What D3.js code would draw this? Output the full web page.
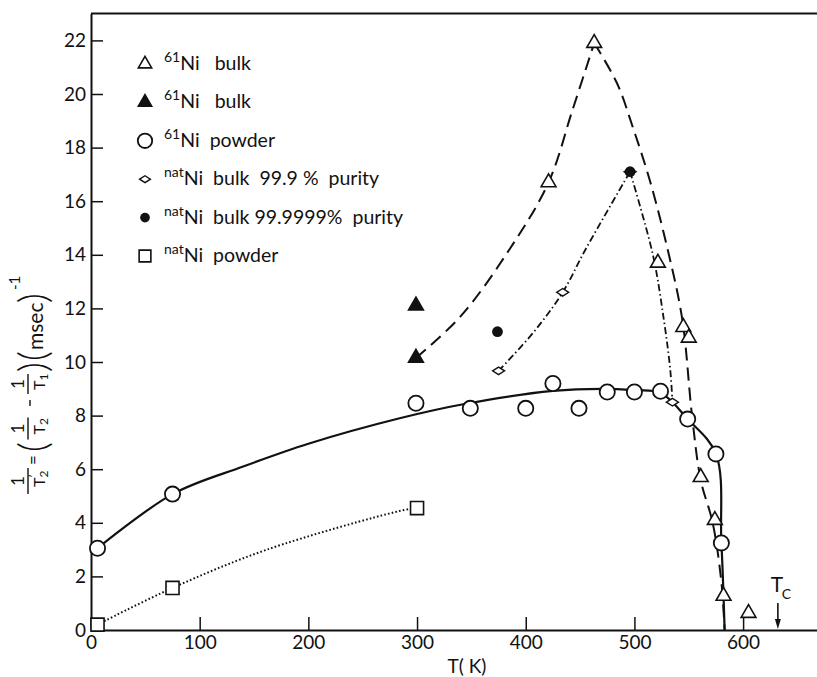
<!DOCTYPE html>
<html>
<head>
<meta charset="utf-8">
<script src="https://cdn.jsdelivr.net/npm/d3@7"></script>
<style>
  html, body { margin: 0; padding: 0; background: #fff; }
  svg { display: block; }
  text { font-family: Lato, "DejaVu Sans", sans-serif; fill: #111; }
</style>
</head>
<body>
<svg id="chart" width="817" height="677"></svg>
<script>
// ---- measured points (T in K, relaxation rate in msec^-1) ----
const triOpenT   = [421, 463, 521.6, 545, 550, 561, 574, 582, 605];
const triOpenV   = [16.7, 21.9, 13.7, 11.3, 10.9, 5.7, 4.1, 1.27, 0.63];
const triFillT   = [299, 299];
const triFillV   = [10.15, 12.1];
const circOpenT  = [6, 75, 299, 349, 400, 425, 449, 475, 500, 524, 549, 575, 580];
const circOpenV  = [3.05, 5.07, 8.46, 8.27, 8.27, 9.2, 8.27, 8.88, 8.88, 8.91, 7.87, 6.57, 3.25];
const diamondT   = [375, 434, 496, 535];
const diamondV   = [9.67, 12.6, 17.1, 8.5];
const circFillT  = [374, 496];
const circFillV  = [11.13, 17.1];
const squareT    = [6, 75, 300];
const squareV    = [0.2, 1.57, 4.55];

// ---- hand-drawn guide curves through the data ----
const solidCurveT    = [6, 75, 140, 200, 284, 346, 425, 470, 500, 524, 549, 575, 580, 583];
const solidCurveV    = [3.05, 5.07, 6.1, 6.95, 7.9, 8.45, 8.92, 9.0, 8.95, 8.85, 7.87, 6.57, 3.3, 0];
const dashRiseT      = [299, 340, 385, 421, 443, 463];
const dashRiseV      = [10.15, 11.7, 14.2, 16.7, 19.4, 21.9];
const dashFallT      = [463, 484, 499, 514, 530, 544, 553, 561, 572, 580, 583];
const dashFallV      = [21.9, 20.4, 18.7, 16.8, 14.3, 11.6, 8.0, 5.6, 4.0, 1.8, 0];
const dashDotRiseT   = [375, 407, 434, 455, 496];
const dashDotRiseV   = [9.67, 11.1, 12.6, 14.2, 17.1];
const dashDotFallT   = [496, 517, 527, 533, 535];
const dashDotFallV   = [17.1, 14.0, 11.6, 9.7, 8.5];
const dottedT        = [6, 75, 162, 284, 300];
const dottedV        = [0.2, 1.57, 3.0, 4.44, 4.55];

// ---- axes ----
const xTicks = [0, 100, 200, 300, 400, 500, 600];
const yTicks = [0, 2, 4, 6, 8, 10, 12, 14, 16, 18, 20, 22];
const curieT = 632;

// ---- legend ----
const legendSup  = ["61", "61", "61", "nat", "nat", "nat"];
const legendText = ["Ni   bulk", "Ni   bulk", "Ni  powder", "Ni  bulk  99.9 %  purity", "Ni  bulk 99.9999%  purity", "Ni  powder"];
const legendKind = ["triOpen", "triFill", "circOpen", "diamond", "circFill", "square"];

const svg = d3.select("#chart");
const W = 817;
const x = d3.scaleLinear().domain([0, 668]).range([91, 817]);
const y = d3.scaleLinear().domain([0, 23]).range([630, 13.6]);

const zip = (a, b) => a.map((v, i) => [v, b[i]]);

// frame: left axis, top line, bottom axis
svg.append("line").attr("x1", x(0)).attr("x2", W).attr("y1", y(23)).attr("y2", y(23))
  .attr("stroke", "#111").attr("stroke-width", 2);

const yAxis = d3.axisLeft(y).tickValues(yTicks).tickSizeInner(-12).tickSizeOuter(0).tickPadding(5);
const gy = svg.append("g").attr("transform", `translate(${x(0)},0)`).call(yAxis);
gy.select(".domain").attr("stroke", "#111").attr("stroke-width", 2);
gy.selectAll(".tick line").attr("stroke", "#111").attr("stroke-width", 1.5);
gy.selectAll(".tick text").attr("font-size", 19).attr("font-family", "Lato, sans-serif").attr("fill", "#111");

const xAxis = d3.axisBottom(x).tickValues(xTicks).tickSizeInner(-13).tickSizeOuter(0).tickPadding(6);
const gx = svg.append("g").attr("transform", `translate(0,${y(0)})`).call(xAxis);
gx.select(".domain").attr("stroke", "#111").attr("stroke-width", 2);
gx.selectAll(".tick line").attr("stroke", "#111").attr("stroke-width", 1.5);
gx.selectAll(".tick text").attr("font-size", 19).attr("font-family", "Lato, sans-serif").attr("fill", "#111");

svg.append("text").attr("x", 467).attr("y", 673).attr("text-anchor", "middle")
  .attr("font-size", 19).text("T( K)");

// ---- curves ----
const line = d3.line().x(d => x(d[0])).y(d => y(d[1])).curve(d3.curveCatmullRom.alpha(0.5));
const curves = [
  { pts: zip(solidCurveT, solidCurveV), dash: null, w: 2.2 },
  { pts: zip(dashRiseT, dashRiseV), dash: "13,7", w: 2 },
  { pts: zip(dashFallT, dashFallV), dash: "13,7", w: 2 },
  { pts: zip(dashDotRiseT, dashDotRiseV), dash: "7,3,1.5,3", w: 1.8 },
  { pts: zip(dashDotFallT, dashDotFallV), dash: "7,3,1.5,3", w: 1.8 },
  { pts: zip(dottedT, dottedV), dash: "1.6,2.2", w: 2 }
];
svg.append("g").selectAll("path").data(curves).join("path")
  .attr("d", d => line(d.pts)).attr("fill", "none").attr("stroke", "#111")
  .attr("stroke-width", d => d.w).attr("stroke-dasharray", d => d.dash);

// ---- marker shapes ----
function drawMarker(g, kind, cx, cy, s) {
  s = s || 1;
  if (kind === "triOpen" || kind === "triFill") {
    g.append("path").attr("transform", `translate(${cx},${cy})`)
      .attr("d", d3.symbol(d3.symbolTriangle, 95 * s * s)())
      .attr("fill", kind === "triFill" ? "#111" : "#fff").attr("stroke", "#111").attr("stroke-width", 1.6);
  } else if (kind === "circOpen") {
    g.append("circle").attr("cx", cx).attr("cy", cy).attr("r", 7.6 * s)
      .attr("fill", "#fff").attr("stroke", "#111").attr("stroke-width", 1.8);
  } else if (kind === "circFill") {
    g.append("circle").attr("cx", cx).attr("cy", cy).attr("r", 5.4 * s).attr("fill", "#111");
  } else if (kind === "diamond") {
    const hw = 6 * s, hh = 3.8 * s;
    g.append("path").attr("d", `M${cx - hw},${cy}L${cx},${cy - hh}L${cx + hw},${cy}L${cx},${cy + hh}Z`)
      .attr("fill", "#fff").attr("stroke", "#111").attr("stroke-width", 1.4);
  } else if (kind === "square") {
    g.append("path").attr("transform", `translate(${cx},${cy})`)
      .attr("d", d3.symbol(d3.symbolSquare, 170 * s * s)())
      .attr("fill", "#fff").attr("stroke", "#111").attr("stroke-width", 1.6);
  }
}

const gm = svg.append("g");
const series = [
  ["square", squareT, squareV],
  ["diamond", diamondT, diamondV],
  ["circOpen", circOpenT, circOpenV],
  ["triOpen", triOpenT, triOpenV],
  ["triFill", triFillT, triFillV],
  ["circFill", circFillT, circFillV]
];
series.forEach(([kind, ts, vs]) => ts.forEach((t, i) => drawMarker(gm, kind, x(t), y(vs[i]))));

// ---- legend ----
const gl = svg.append("g");
legendKind.forEach((kind, i) => {
  const base = 70 + i * 38.4;
  drawMarker(gl, kind, 145, base - 6, kind === "circOpen" ? 0.95 : 0.9);
  const t = gl.append("text").attr("x", 164).attr("y", base).attr("font-size", 19.5)
    .attr("xml:space", "preserve").style("white-space", "pre");
  t.append("tspan").attr("font-size", 14).attr("dy", -8).text(legendSup[i]);
  t.append("tspan").attr("dy", 8).text(legendText[i]);
});

// ---- Curie temperature marker ----
const xc = x(curieT);
svg.append("text").attr("x", xc - 7).attr("y", 592).attr("font-size", 21).text("T");
svg.append("text").attr("x", xc + 4).attr("y", 599).attr("font-size", 14).text("C");
svg.append("line").attr("x1", xc).attr("x2", xc).attr("y1", 603).attr("y2", 622)
  .attr("stroke", "#111").attr("stroke-width", 1.6);
svg.append("path").attr("d", `M${xc - 3},${619}L${xc + 3},${619}L${xc},${629}Z`).attr("fill", "#111");

// ---- rotated y-axis label: 1/T2' = (1/T2 - 1/T1)(msec)^-1 ----
const gy2 = svg.append("g").attr("transform", "translate(33,495) rotate(-90)");
function frac(cx, w, den, sub, prime) {
  gy2.append("text").attr("x", cx).attr("y", -9).attr("text-anchor", "middle").attr("font-size", 17).text("1");
  gy2.append("line").attr("x1", cx - w / 2).attr("x2", cx + w / 2).attr("y1", -5).attr("y2", -5)
    .attr("stroke", "#111").attr("stroke-width", 1.4);
  const t = gy2.append("text").attr("x", cx - 6).attr("y", 12).attr("font-size", 16);
  t.append("tspan").text(den);
  t.append("tspan").attr("font-size", 12).attr("dy", 3).text(sub);
  if (prime) {
    gy2.append("text").attr("x", cx + 3).attr("y", 5).attr("font-size", 12).text("\u2032");
  }
}
frac(14, 26, "T", "2", true);
gy2.append("text").attr("x", 35).attr("y", 6).attr("text-anchor", "middle").attr("font-size", 17).text("=");
gy2.append("text").attr("x", 48).attr("y", 14).attr("text-anchor", "middle").attr("font-size", 40).attr("font-weight", 300).text("(");
frac(66.5, 22, "T", "2", false);
gy2.append("line").attr("x1", 89).attr("x2", 95).attr("y1", -3).attr("y2", -3).attr("stroke", "#111").attr("stroke-width", 1.4);
frac(111, 20, "T", "1", false);
gy2.append("text").attr("x", 128).attr("y", 14).attr("text-anchor", "middle").attr("font-size", 40).attr("font-weight", 300).text(")");
gy2.append("text").attr("x", 139).attr("y", 14).attr("text-anchor", "middle").attr("font-size", 40).attr("font-weight", 300).text("(");
gy2.append("text").attr("x", 145).attr("y", 10).attr("font-size", 21).text("msec");
gy2.append("text").attr("x", 197).attr("y", 14).attr("text-anchor", "middle").attr("font-size", 40).attr("font-weight", 300).text(")");
gy2.append("text").attr("x", 205).attr("y", -13).attr("font-size", 15).text("-1");
</script>
</body>
</html>
